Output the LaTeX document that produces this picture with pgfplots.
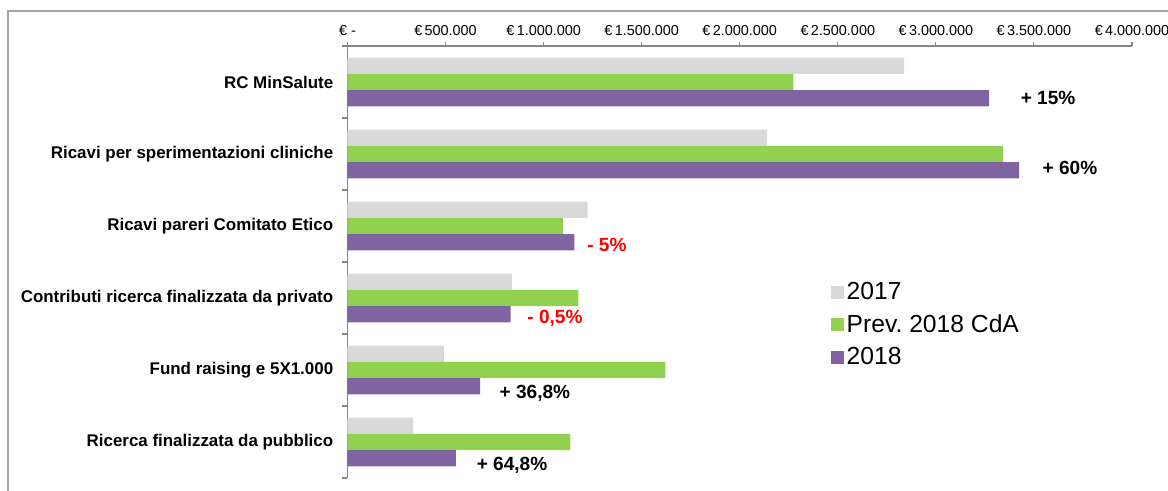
\documentclass[border=0pt]{standalone}
\usepackage{pgfplots}
\pgfplotsset{compat=1.18}
\usepackage{fontspec}
\setmainfont{Liberation Sans}
\definecolor{c17}{HTML}{D9D9D9}
\definecolor{cprev}{HTML}{92D050}
\definecolor{c18}{HTML}{8064A2}
\definecolor{axgray}{HTML}{868686}
\definecolor{framegray}{HTML}{A6A6A6}
\begin{document}
\begin{tikzpicture}
\useasboundingbox (0,0) rectangle (876pt,367.5pt);
\draw[framegray, line width=1.1pt] (6pt,-2pt) -- (6pt,359.25pt) -- (880pt,359.25pt);
\begin{axis}[
  at={(260.6pt,9pt)}, anchor=south west,
  scale only axis, width=588.4pt, height=324pt,
  xmin=0, xmax=4000000, ymin=-0.5, ymax=5.5,
  axis x line=top, axis y line=left,
  axis line style={draw=axgray, line width=1.1pt, -},
  xtick={0,500000,1000000,1500000,2000000,2500000,3000000,3500000,4000000},
  xticklabels={€ -, €\,500.000, €\,1.000.000, €\,1.500.000, €\,2.000.000, €\,2.500.000, €\,3.000.000, €\,3.500.000, €\,4.000.000},
  xticklabel style={font=\fontsize{10.8}{12}\selectfont, yshift=1.5pt},
  scaled x ticks=false,
  ytick={0,1,2,3,4,5},
  yticklabels={Ricerca finalizzata da pubblico, Fund raising e 5X1.000, Contributi ricerca finalizzata da privato, Ricavi pareri Comitato Etico, Ricavi per sperimentazioni cliniche, RC MinSalute},
  yticklabel style={font=\bfseries\fontsize{12.7}{14}\selectfont, inner sep=0pt, xshift=-7.5pt},
  minor ytick={-0.5,0.5,1.5,2.5,3.5,4.5,5.5},
  tick align=outside,
  major tick length=3pt, minor tick length=4pt,
  tick style={draw=axgray, line width=0.8pt},
  major y tick style={draw=none},
  xbar, bar width=12.15pt,
  legend style={at={(0.616,0.459)}, anchor=north west, draw=none, fill=none,
    font=\fontsize{18.5}{21}\selectfont, row sep=5.7pt, inner sep=0pt,
    /tikz/every even column/.style={column sep=2pt}},
  legend cell align=left,
  legend image code/.code={\path[#1] (0pt,-4.9pt) rectangle (9.75pt,4.9pt);},
  clip=false,
]
\addplot[fill=c17, draw=none, bar shift=12.15pt] coordinates {
  (2838000,5) (2140000,4) (1224000,3) (838000,2) (491000,1) (335000,0)};
\addplot[fill=cprev, draw=none, bar shift=0pt] coordinates {
  (2273000,5) (3343000,4) (1098000,3) (1177000,2) (1621000,1) (1136000,0)};
\addplot[fill=c18, draw=none, bar shift=-12.15pt] coordinates {
  (3271000,5) (3424000,4) (1157000,3) (832000,2) (677000,1) (553000,0)};
\legend{2017, Prev.\ 2018 CdA, 2018}
\begin{scope}[every node/.style={font=\bfseries\fontsize{14.3}{16}\selectfont}]
\node at (axis cs:3572000,4.778) {+ 15\%};
\node at (axis cs:3684000,3.806) {+ 60\%};
\node[red] at (axis cs:1323000,2.736) {- 5\%};
\node[red] at (axis cs:1058000,1.722) {- 0,5\%};
\node at (axis cs:956000,0.681) {+ 36,8\%};
\node at (axis cs:839000,-0.319) {+ 64,8\%};
\end{scope}
\end{axis}
\end{tikzpicture}
\end{document}
